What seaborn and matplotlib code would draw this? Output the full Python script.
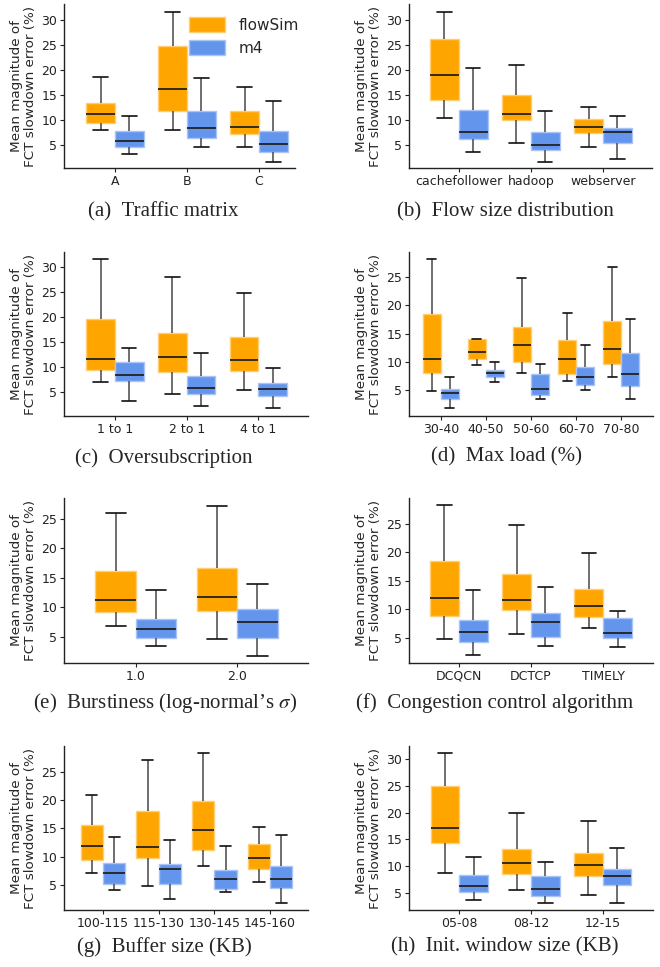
import numpy as np
import pandas as pd
import matplotlib
matplotlib.use("Agg")
import matplotlib.pyplot as plt
import matplotlib.colors as mcolors
from matplotlib.ticker import MultipleLocator
import seaborn as sns

# ---------------- data: five-number summaries (whislo, q1, median, q3, whishi)
series_names = ["flowSim", "m4"]

a_cats = ["A", "B", "C"]
a_flowsim = [[8.1, 9.4, 11.3, 13.5, 18.7], [8.1, 11.9, 16.3, 24.9, 31.7], [4.7, 7.2, 8.7, 11.8, 16.6]]
a_m4 = [[3.3, 4.7, 5.9, 7.8, 10.8], [4.7, 6.5, 8.4, 11.8, 18.5], [1.7, 3.6, 5.2, 7.9, 13.9]]

b_cats = ["cachefollower", "hadoop", "webserver"]
b_flowsim = [[10.5, 14.0, 19.1, 26.3, 31.7], [5.5, 10.1, 11.3, 15.0, 21.0], [4.7, 7.5, 8.7, 10.2, 12.6]]
b_m4 = [[3.7, 6.3, 7.7, 12.1, 20.5], [1.7, 4.1, 5.1, 7.7, 11.8], [2.3, 5.5, 7.6, 8.5, 10.8]]

c_cats = ["1 to 1", "2 to 1", "4 to 1"]
c_flowsim = [[7.1, 9.4, 11.7, 19.7, 31.7], [4.7, 9.1, 12.1, 16.8, 28.1], [5.5, 9.3, 11.5, 16.1, 24.9]]
c_m4 = [[3.2, 7.3, 8.5, 11.1, 13.9], [2.3, 4.7, 5.9, 8.2, 12.9], [1.9, 4.2, 5.6, 6.8, 9.9]]

d_cats = ["30-40", "40-50", "50-60", "60-70", "70-80"]
d_flowsim = [[4.8, 8.1, 10.6, 18.4, 28.2], [9.4, 10.6, 11.7, 14.0, 14.0], [8.1, 10.0, 13.0, 16.2, 24.9],
             [6.7, 7.9, 10.5, 13.9, 18.7], [7.3, 9.7, 12.2, 17.2, 26.8]]
d_m4 = [[1.9, 3.5, 4.6, 5.3, 7.4], [6.4, 7.3, 8.1, 8.5, 10.0], [3.4, 4.2, 5.2, 7.9, 9.6],
        [5.1, 5.9, 7.4, 9.1, 13.0], [3.5, 5.7, 7.9, 11.5, 17.6]]

e_cats = ["1.0", "2.0"]
e_flowsim = [[6.8, 9.2, 11.2, 16.2, 26.0], [4.7, 9.4, 11.8, 16.6, 27.2]]
e_m4 = [[3.4, 4.8, 6.3, 8.1, 13.0], [1.8, 4.9, 7.5, 9.7, 13.9]]

f_cats = ["DCQCN", "DCTCP", "TIMELY"]
f_flowsim = [[4.8, 8.9, 12.0, 18.5, 28.2], [5.6, 9.9, 11.6, 16.1, 24.7], [6.7, 8.7, 10.6, 13.5, 19.8]]
f_m4 = [[1.9, 4.2, 6.0, 8.2, 13.4], [3.5, 5.2, 7.8, 9.4, 13.9], [3.3, 4.9, 5.9, 8.4, 9.7]]

g_cats = ["100-115", "115-130", "130-145", "145-160"]
g_flowsim = [[7.1, 9.4, 11.9, 15.6, 20.9], [4.8, 9.7, 11.7, 18.1, 27.2], [8.4, 11.2, 14.7, 19.9, 28.3],
             [5.5, 7.8, 9.7, 12.2, 15.2]]
g_m4 = [[4.0, 5.1, 7.0, 8.8, 13.5], [2.4, 5.1, 7.8, 8.6, 13.0], [3.7, 4.3, 6.1, 7.7, 11.8],
        [1.8, 4.5, 6.1, 8.4, 13.9]]

h_cats = ["05-08", "08-12", "12-15"]
h_flowsim = [[8.7, 14.3, 17.1, 25.1, 31.1], [5.5, 8.5, 10.6, 13.2, 19.9], [4.7, 8.1, 10.3, 12.5, 18.4]]
h_m4 = [[3.7, 5.1, 6.3, 8.3, 11.8], [3.2, 4.4, 5.7, 8.1, 10.8], [3.2, 6.5, 8.2, 9.4, 13.4]]

captions = [
    "(a)\u2002Traffic matrix",
    "(b)\u2002Flow size distribution",
    "(c)\u2002Oversubscription",
    "(d)\u2002Max load (%)",
    "(e)\u2002Burstiness (log-normal\u2019s $\\sigma$)",
    "(f)\u2002Congestion control algorithm",
    "(g)\u2002Buffer size (KB)",
    "(h)\u2002Init. window size (KB)",
]

panels = [
    (a_cats, a_flowsim, a_m4),
    (b_cats, b_flowsim, b_m4),
    (c_cats, c_flowsim, c_m4),
    (d_cats, d_flowsim, d_m4),
    (e_cats, e_flowsim, e_m4),
    (f_cats, f_flowsim, f_m4),
    (g_cats, g_flowsim, g_m4),
    (h_cats, h_flowsim, h_m4),
]

# ---------------- layout (pixels): left, right, top, bottom, xlim, ylim, caption x, caption y
W, H = 660, 967
layout = [
    (64, 295, 4, 168, (-0.708, 2.5), (0.4, 33.2), 163, 212),
    (409, 652, 4, 168, (-0.69, 2.68), (0.4, 33.2), 505, 212),
    (64, 308, 252, 416, (-0.71, 2.69), (0.26, 33.1), 164, 458),
    (409, 653, 252, 416, (-0.71, 4.71), (0.46, 29.4), 506, 457),
    (64, 308, 498, 663, (-0.71, 1.70), (0.6, 28.5), 165, 703),
    (409, 653, 498, 663, (-0.69, 2.69), (0.58, 29.5), 495, 703),
    (64, 308, 746, 910, (-0.70, 3.68), (0.53, 29.6), 164, 947),
    (409, 653, 746, 910, (-0.70, 2.70), (1.8, 32.5), 505, 947),
]

sns.set_theme(style="ticks")
plt.rcParams["font.family"] = ["DejaVu Sans"]
plt.rcParams["mathtext.fontset"] = "stix"

palette = {"flowSim": "#FFA500", "m4": "#6495ED"}

fig = plt.figure(figsize=(W / 100, H / 100), dpi=100)

for idx, ((cats, fs, m4), lay) in enumerate(zip(panels, layout)):
    left, right, top, bottom, xlim, ylim, cx, cy = lay
    rows = []
    for ci, cat in enumerate(cats):
        for v in fs[ci]:
            rows.append((cat, "flowSim", v))
        for v in m4[ci]:
            rows.append((cat, "m4", v))
    df = pd.DataFrame(rows, columns=["cat", "series", "value"])
    ax = fig.add_axes([left / W, 1 - bottom / H, (right - left) / W, (bottom - top) / H])
    sns.boxplot(data=df, x="cat", y="value", hue="series", order=cats,
                hue_order=series_names, palette=palette, whis=(0, 100),
                width=0.8, gap=0, saturation=1, showfliers=False,
                linewidth=1.2, ax=ax,
                whiskerprops=dict(color="#555555", linewidth=1.2),
                capprops=dict(color="#111111", linewidth=1.2),
                medianprops=dict(color="#222222", linewidth=1.3))
    for p in ax.patches:
        fc = mcolors.to_rgb(p.get_facecolor())
        light = tuple(c + (1 - c) * 0.45 for c in fc)
        p.set_edgecolor(light)
        p.set_linewidth(1.0)
    ax.set_xlim(*xlim)
    ax.set_ylim(*ylim)
    ax.yaxis.set_major_locator(MultipleLocator(5))
    ax.set_xlabel("")
    ax.set_ylabel("Mean magnitude of\nFCT slowdown error (%)", fontsize=9.7,
                  linespacing=1.1, labelpad=3)
    ax.tick_params(axis="both", labelsize=9, length=3, width=0.8, pad=2, colors="#222222")
    for s in ["top", "right"]:
        ax.spines[s].set_visible(False)
    for s in ["left", "bottom"]:
        ax.spines[s].set_linewidth(1.0)
        ax.spines[s].set_color("#222222")
    if idx == 0:
        ax.legend(loc="upper left", bbox_to_anchor=(0.5, 0.975), frameon=False,
                  fontsize=11, handlelength=2.4, handleheight=1.1, labelspacing=0.5,
                  handletextpad=0.9, borderaxespad=0.2)
    else:
        lg = ax.get_legend()
        if lg is not None:
            lg.remove()
    fig.text(cx / W, 1 - cy / H, captions[idx], ha="center", va="center",
             fontsize=15, family=["Liberation Serif", "DejaVu Serif"])

fig.savefig("out.png", dpi=100)
